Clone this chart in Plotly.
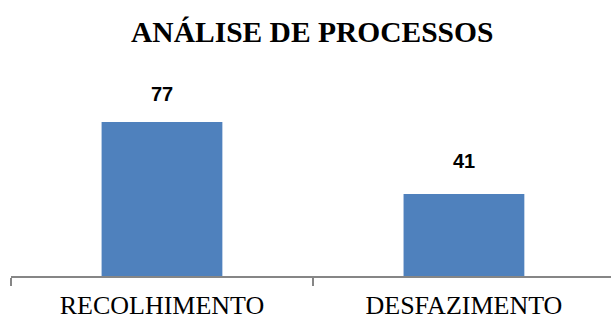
import plotly.graph_objects as go

# Process counts by category
categories = ["RECOLHIMENTO", "DESFAZIMENTO"]
values = [77, 41]
label_shift = [28, 33]

BAR_COLOR = "#4F81BD"
AXIS_COLOR = "#868686"

fig = go.Figure(
    go.Bar(
        x=categories,
        y=values,
        width=0.4,
        marker=dict(color=BAR_COLOR, line=dict(width=0)),
        hoverinfo="skip",
    )
)

# Value labels above each bar
for cat, val, shift in zip(categories, values, label_shift):
    fig.add_annotation(
        x=cat, y=val, text=f"<b>{val}</b>",
        showarrow=False, yanchor="middle", yshift=shift,
        font=dict(family="Liberation Sans", size=20, color="#000000"),
    )

fig.update_layout(
    width=611,
    height=320,
    margin=dict(l=11, r=0, t=96, b=44),
    paper_bgcolor="white",
    plot_bgcolor="white",
    showlegend=False,
    title=dict(
        text="<b>ANÁLISE DE PROCESSOS</b>",
        x=0.511, xanchor="center",
        y=1 - 32 / 320, yanchor="middle", yref="container",
        font=dict(family="Liberation Serif", size=29.5, color="#000000"),
    ),
    xaxis=dict(
        type="category",
        range=[-0.5, 1.487],
        automargin=False,
        showline=True, linecolor=AXIS_COLOR, linewidth=1.5,
        ticks="outside", tickson="boundaries", ticklen=8,
        tickcolor=AXIS_COLOR, tickwidth=1.5,
        ticklabelstandoff=5,
        showgrid=False, zeroline=False,
        tickfont=dict(family="Liberation Serif", size=26, color="#000000"),
    ),
    yaxis=dict(
        range=[0, 90],
        visible=False,
        showgrid=False, zeroline=False,
    ),
)

fig.write_html("out.html")
